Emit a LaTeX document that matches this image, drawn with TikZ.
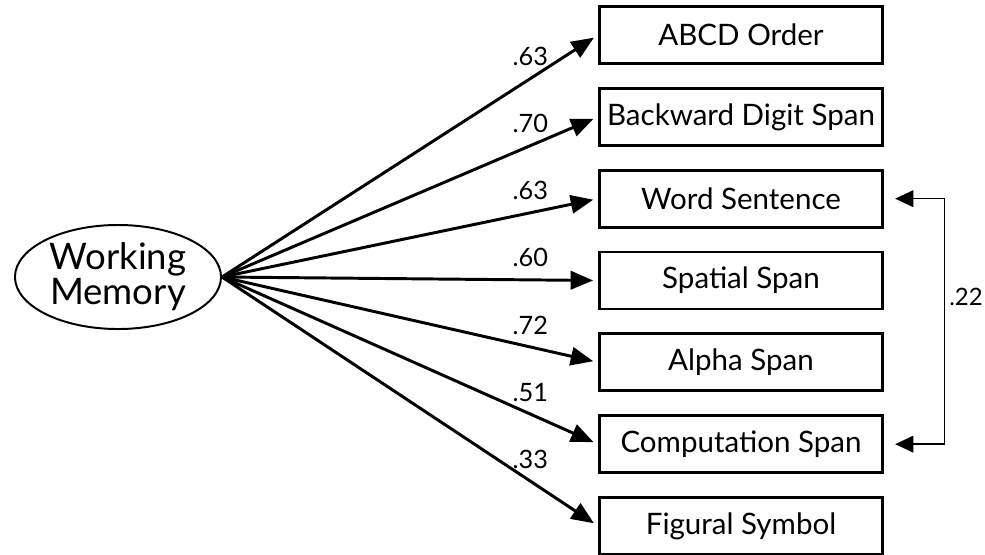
\documentclass[tikz,border=0pt]{standalone}
\usepackage{fontspec}
\setmainfont{Lato}
\usetikzlibrary{arrows.meta,positioning,shapes.geometric}

\tikzset{
  testbox/.style={draw, line width=2pt, minimum width=7.075cm, minimum height=1.425cm,
    font=\fontsize{21}{24}\selectfont},
  latent/.style={ellipse, draw, line width=1.4pt, minimum width=5.15cm, minimum height=2.6cm,
    inner sep=0pt, align=center, font=\fontsize{26}{25}\selectfont},
  load/.style={line width=2.1pt, -{Triangle[length=16pt,width=13pt]}, shorten >=3.5pt},
  loadlbl/.style={pos=0.82, above=8pt, inner sep=0pt, font=\fontsize{18}{21}\selectfont},
  corr/.style={line width=1pt, {Triangle[length=13pt,width=12pt]}-{Triangle[length=13pt,width=12pt]}}
}

\begin{document}
\begin{tikzpicture}[x=0.025cm, y=-0.025cm, node distance=0.55cm]

    \useasboundingbox (0,0) rectangle (985,554);

    % Latent factor
    \node[latent] (wm) at (118,277) {Working\\Memory};

    % Observed tasks
    \node[testbox] (abcd) at (741,35) {ABCD Order};
    \node[testbox, below=of abcd] (bds) {Backward Digit Span};
    \node[testbox, below=of bds] (ws) {Word Sentence};
    \node[testbox, below=of ws] (ss) {Spatial Span};
    \node[testbox, below=of ss] (as) {Alpha Span};
    \node[testbox, below=of as] (cs) {Computation Span};
    \node[testbox, below=of cs] (fs) {Figural Symbol};

    % Loadings
    \draw[load] (wm.east) -- node[loadlbl] (l1) {.63} (abcd.west);
    \draw[load] (wm.east) -- node[loadlbl] (l2) {.70} (bds.west);
    \draw[load] (wm.east) -- node[loadlbl] (l3) {.63} (ws.west);
    \draw[load] (wm.east) -- node[loadlbl] (l4) {.60} (ss.west);
    \draw[load] (wm.east) -- node[loadlbl] (l5) {.72} (as.west);
    \draw[load] (wm.east) -- node[loadlbl] (l6) {.51} (cs.west);
    \draw[load] (wm.east) -- node[loadlbl] (l7) {.33} (fs.west);

    % Correlated residuals
    \draw[corr] ([xshift=8pt]ws.east) -- ++(35pt,0)
        |- node[pos=0.2, right=3pt, inner sep=0pt, font=\fontsize{17}{20}\selectfont] (r) {.22} ([xshift=8pt]cs.east);
\end{tikzpicture}
\end{document}
